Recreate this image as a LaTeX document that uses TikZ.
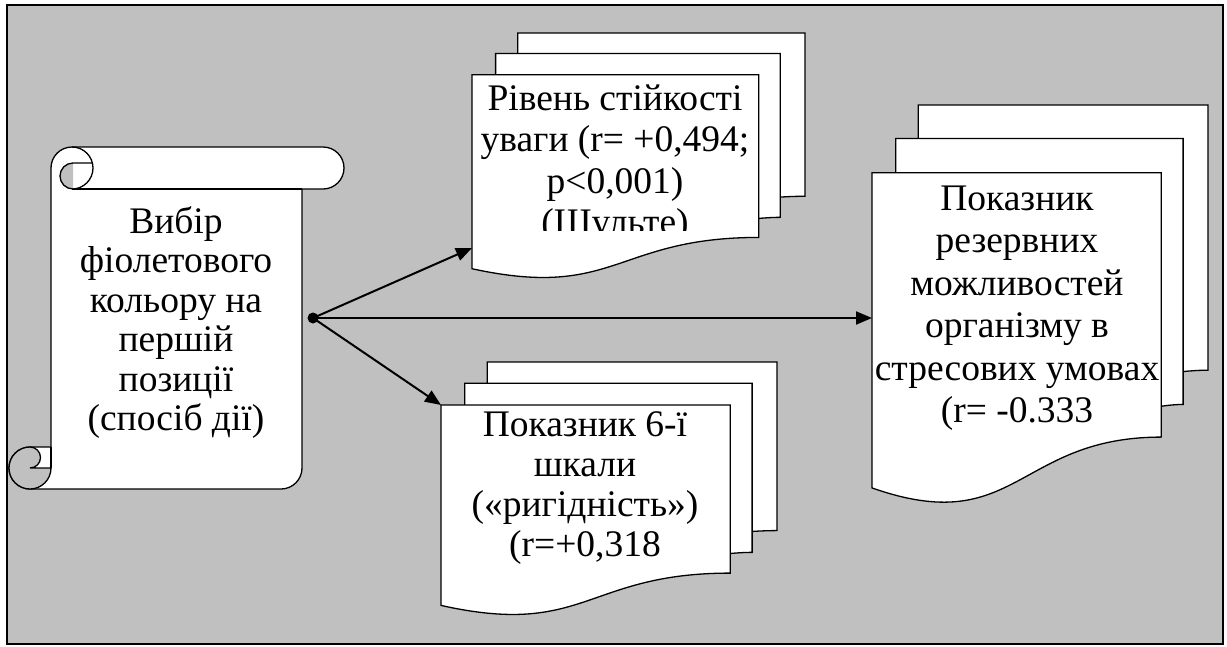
\documentclass[tikz,border=0pt]{standalone}
\usepackage{fontspec}
\setmainfont{Liberation Serif}
\usetikzlibrary{arrows.meta}
\definecolor{bg}{HTML}{C0C0C0}
\tikzset{
  sheet/.style={draw=black, fill=white, line width=1.3pt, line join=miter},
  thin/.style={draw=black, line width=1.3pt},
  conn/.style={draw=black, line width=2pt, -{Triangle[length=16pt,width=13pt]}},
  lbl/.style={align=center, inner sep=0pt, text=black},
}
\newcommand{\multidoc}[4]{%
 \begin{scope}[shift={(#1pt,-#2pt)}, x=#3pt, y=-#4pt]
  \path[sheet] (0.1376,0) -- (1,0) -- (1,0.6663) .. controls (0.9630,0.6663) and (0.9259,0.6698) .. (0.9259,0.6698) -- (0.1376,0.6698) -- cycle;
  \path[sheet] (0.0709,0.0840) -- (0.9259,0.0840) -- (0.9259,0.7524) .. controls (0.8934,0.7524) and (0.8609,0.7570) .. (0.8609,0.7570) -- (0.0709,0.7570) -- cycle;
  \path[sheet] (0,0.1701) -- (0.8609,0.1701) -- (0.8609,0.8344) .. controls (0.4305,0.8344) and (0.4305,1.0899) .. (0,0.9621) -- cycle;
 \end{scope}}
\begin{document}
\begin{tikzpicture}[x=1pt, y=-1pt]
\useasboundingbox (0,0) rectangle (1227,646);
\fill[white] (0,0) rectangle (1227,646);
\draw[line width=2.5pt, fill=bg] (7,5) rectangle (1223,644);

% scroll
\path[sheet] (51,168) arc[start angle=180, end angle=270, radius=21] -- (323,147)
  arc[start angle=270, end angle=450, radius=21] -- (302,189) -- (302,468)
  arc[start angle=0, end angle=90, radius=21] -- (30,489)
  arc[start angle=90, end angle=270, radius=21] -- (51,447) -- cycle;
\draw[thin] (72,147) arc[start angle=270, end angle=450, radius=21];
\draw[thin] (72,189) -- (302,189);
\fill[bg] (73,163) arc[start angle=270, end angle=90, radius=13] -- cycle;
\draw[thin] (92.4,163) -- (73,163) arc[start angle=270, end angle=90, radius=13];
\path[thin, fill=bg] (30,447) arc[start angle=270, end angle=450, radius=10.5] -- (51,468)
  arc[start angle=0, end angle=270, radius=21] -- cycle;
\draw[thin] (51,447) -- (51,468);
\node[lbl, font=\fontsize{37.5}{39.5}\selectfont] (scrolltxt) at (176,324)
  {\strut Вибір\\\strut фіолетового\\\strut кольору на\\\strut першій\\\strut позиції\\\strut (спосіб дії)};

% documents
\multidoc{472}{33}{333}{245}
\multidoc{441}{362}{336}{253}
\multidoc{872}{105}{336}{398}

\begin{scope}
\clip (472,75) rectangle (759,230);
\node[lbl, font=\fontsize{37.5}{41.5}\selectfont] (doca) at (615,164)
  {\strut Рівень стійкості\\\strut уваги (r= +0,494;\\\strut p<0,001)\\\strut (Шульте)};
\end{scope}
\node[lbl, font=\fontsize{37.5}{40}\selectfont] (docb) at (585,488)
  {\strut Показник 6-ї\\\strut шкали\\\strut («ригідність»)\\\strut (r=+0,318};
\node[lbl, font=\fontsize{37.5}{42.5}\selectfont] (docc) at (1017,308)
  {\strut Показник\\\strut резервних\\\strut можливостей\\\strut організму в\\\strut стресових умовах\\\strut (r= -0.333};

% connectors
\node[circle, fill=black, inner sep=0pt, minimum size=11pt] (src) at (313,318) {};
\coordinate (tA) at (472,248);
\coordinate (tB) at (872,318);
\coordinate (tC) at (441,405);
\draw[conn] (src.center) -- (tA);
\draw[conn] (src.center) -- (tB);
\draw[conn] (src.center) -- (tC);
\end{tikzpicture}
\end{document}
